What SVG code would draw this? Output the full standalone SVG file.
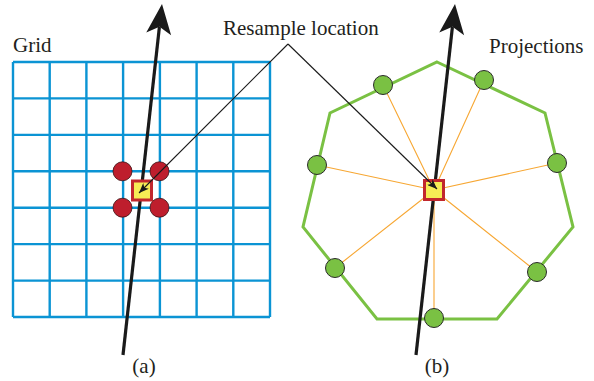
<svg xmlns="http://www.w3.org/2000/svg" width="594" height="381" viewBox="0 0 594 381">
<defs>
<style>
.lbl{font-family:"Liberation Serif","Times New Roman",serif;font-size:21px;fill:#231f20}
.grid{stroke:#0b94d4;stroke-width:2.4;fill:none}
.red{fill:#be1e2d;stroke:#3b1214;stroke-width:0.8}
.grn{fill:#7ac143;stroke:#2a2a2a;stroke-width:1}
.sq{fill:#f6ec55;stroke:#c1272d;stroke-width:3}
.ray{stroke:#f7a733;stroke-width:1.1;fill:none}
.big{stroke:#1a1a1a;stroke-width:3.2;fill:none}
.call{stroke:#1a1a1a;stroke-width:1.1;fill:none}
</style>
<path id="head" d="M0,0 L12.5,30 L0,23 L-12.5,30 Z" fill="#1a1a1a"/>
<marker id="sm" viewBox="0 0 10 8" refX="10" refY="4" markerWidth="10" markerHeight="8" markerUnits="userSpaceOnUse" orient="auto">
<path d="M0,0 L10,4 L0,8 L2.5,4 Z" fill="#1a1a1a"/>
</marker>
</defs>
<rect width="594" height="381" fill="#ffffff"/>

<g id="grid">
<path class="grid" d="M13,62 H270 M13,98.4 H270 M13,134.9 H270 M13,171.3 H270 M13,207.7 H270 M13,244.1 H270 M13,280.6 H270 M13,317 H270 M13,62 V317 M49.7,62 V317 M86.4,62 V317 M123.1,62 V317 M159.9,62 V317 M196.6,62 V317 M233.3,62 V317 M270,62 V317"/>
</g>

<g id="polygon">
<polygon points="437,62 545,113 573,227 497,319 377,319 303,227 330,113" fill="none" stroke="#7ac143" stroke-width="3"/>
</g>

<g id="connectors">
<g id="rays">
<path class="ray" d="M434,190 L383,85 M434,190 L484,80 M434,190 L317,165 M434,190 L557,163 M434,190 L335,268 M434,190 L537,272 M434,190 L434,318"/>
</g>
<g id="arrow-a">
<path class="big" d="M123,355 L159.4,27"/>
<use href="#head" transform="translate(162,4) rotate(6.34)"/>
</g>
<g id="arrow-b">
<path class="big" d="M416,355 L452.4,27"/>
<use href="#head" transform="translate(455,4) rotate(6.34)"/>
</g>
</g>

<g id="samples-a">
<circle class="red" cx="122.5" cy="171.3" r="9.5"/>
<circle class="red" cx="159.5" cy="171.3" r="9.5"/>
<circle class="red" cx="122.5" cy="207.7" r="9.5"/>
<circle class="red" cx="159.5" cy="207.7" r="9.5"/>
</g>

<g id="projections-b">
<circle class="grn" cx="383" cy="85" r="9.5"/>
<circle class="grn" cx="484" cy="80" r="9.5"/>
<circle class="grn" cx="317" cy="165" r="9.5"/>
<circle class="grn" cx="557" cy="163" r="9.5"/>
<circle class="grn" cx="335" cy="268" r="9.5"/>
<circle class="grn" cx="537" cy="272" r="9.5"/>
<circle class="grn" cx="434" cy="318" r="9.5"/>
</g>

<g id="location-a"><rect class="sq" x="132.5" y="181" width="19" height="19"/></g>
<g id="location-b"><rect class="sq" x="424.5" y="180.5" width="19" height="19"/></g>

<g id="callout">
<path class="call" d="M288,44 L139,193" marker-end="url(#sm)"/>
<path class="call" d="M288,44 L437,189" marker-end="url(#sm)"/>
</g>

<g id="labels">
<text class="lbl" x="13" y="52">Grid</text>
<text class="lbl" x="223" y="35">Resample location</text>
<text class="lbl" x="489" y="53">Projections</text>
<text class="lbl" x="144" y="373" text-anchor="middle">(a)</text>
<text class="lbl" x="437" y="373" text-anchor="middle">(b)</text>
</g>
</svg>
